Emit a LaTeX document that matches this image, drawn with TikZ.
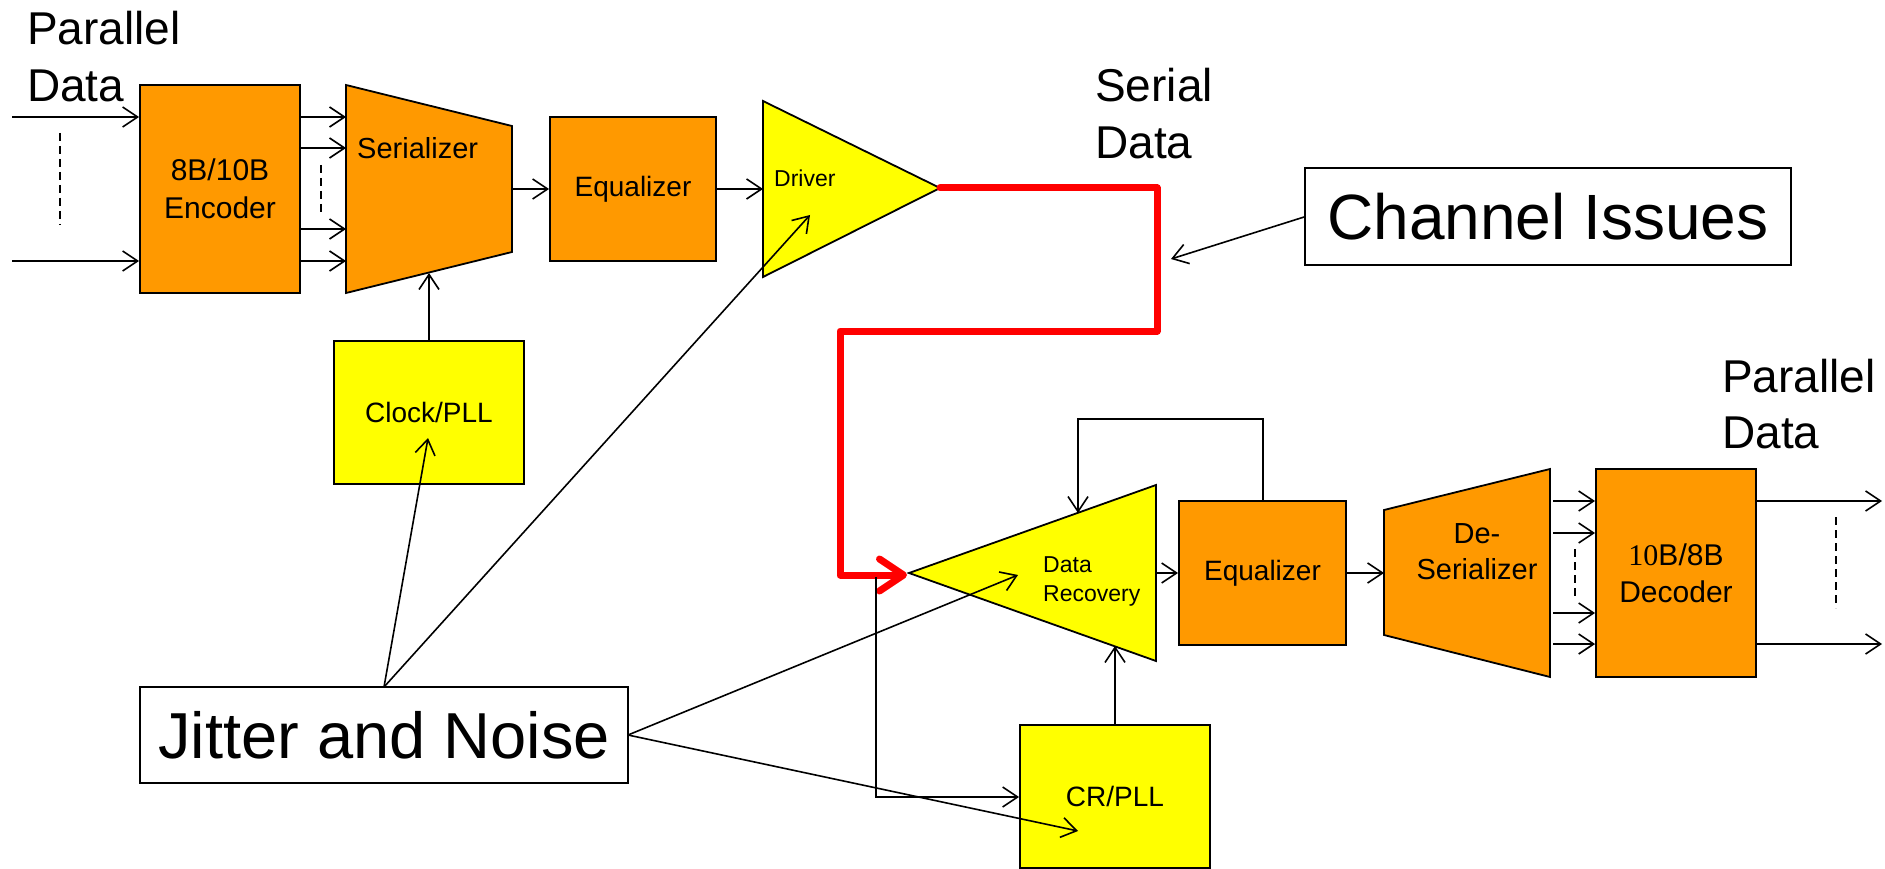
\documentclass[tikz,border=0pt]{standalone}
\usepackage{fontspec}
\setmainfont{Liberation Sans}
\newfontfamily\serifdigits{Liberation Serif}
\usetikzlibrary{arrows.meta}
\definecolor{boxorange}{HTML}{FF9900}
\definecolor{boxyellow}{HTML}{FFFF00}
\definecolor{chanred}{HTML}{FF0000}
\newcommand{\stackl}[2]{\begin{tabular}[t]{@{}l@{}}#1\\#2\end{tabular}}
\newcommand{\stackc}[2]{\begin{tabular}[t]{@{}c@{}}#1\\#2\end{tabular}}
\tikzset{
  blk/.style={draw=black, line width=1.8pt, line join=miter},
  obox/.style={blk, fill=boxorange, inner sep=0pt},
  ybox/.style={blk, fill=boxyellow, inner sep=0pt},
  wbox/.style={blk, fill=white, inner sep=0pt},
  conn/.style={line width=1.6pt, -{Straight Barb[length=15pt,width=20pt]}},
  plainline/.style={line width=1.6pt},
  dashv/.style={line width=1.6pt, dash pattern=on 8pt off 5pt},
  redline/.style={draw=chanred, line width=7pt, line join=round, line cap=round,
     -{Straight Barb[length=24pt,width=32pt,line cap=round,line join=round]}},
  bigtxt/.style={font=\fontsize{46}{57}\selectfont, inner sep=0pt},
  midtxt/.style={font=\fontsize{28}{38}\selectfont, align=center},
}
\begin{document}
\begin{tikzpicture}[x=1pt,y=-1pt]
\useasboundingbox (0,0) rectangle (1885,869);

% ---------- titles ----------
\node[bigtxt, anchor=base west] (pdl) at (27,45) {\stackl{Parallel}{Data}};
\node[bigtxt, anchor=base west] (sd) at (1095,102) {\stackl{Serial}{Data}};
\node[bigtxt, anchor=base west, font=\fontsize{46}{56}\selectfont] (pdr) at (1722,392) {\stackl{Parallel}{Data}};

% ---------- transmitter ----------
\node[obox, minimum width=160pt, minimum height=208pt, font=\fontsize{30}{38}\selectfont, align=center] (enc) at (220,189) {8B/10B\\Encoder};

\coordinate (serTL) at (346,85); \coordinate (serTR) at (512,126);
\coordinate (serBR) at (512,252); \coordinate (serBL) at (346,293);
\path[obox] (serTL) -- (serTR) -- (serBR) -- (serBL) -- cycle;
\node[anchor=base west, font=\fontsize{29}{35}\selectfont, inner sep=0pt] (sertxt) at (357,159) {Serializer};
\coordinate (serOut) at (512,189);
\coordinate (serBot) at (429,273);

\node[obox, minimum width=166pt, minimum height=144pt, midtxt] (eq1) at (633,189) {Equalizer};

\coordinate (drvTL) at (763,101); \coordinate (drvTip) at (940,188); \coordinate (drvBL) at (763,277);
\path[ybox] (drvTL) -- (drvTip) -- (drvBL) -- cycle;
\node[anchor=base west, font=\fontsize{23}{28}\selectfont, inner sep=0pt] (drvtxt) at (774,187) {Driver};
\coordinate (drvIn) at (763,189);
\coordinate (drvJit) at (810,215);

\node[ybox, minimum width=190pt, minimum height=143pt, midtxt] (clk) at (429,412.5) {Clock/PLL};
\coordinate (clkJit) at (428,438);

% ---------- side boxes ----------
\node[wbox, minimum width=488pt, minimum height=96pt, font=\fontsize{65}{70}\selectfont] (jit) at (384,735) {Jitter and Noise};
\node[wbox, minimum width=486pt, minimum height=97pt, font=\fontsize{64}{70}\selectfont] (chan) at (1548,216.5) {Channel Issues};
\coordinate (jitTop) at (384,687);
\coordinate (jitRight) at (628,735);

% ---------- receiver ----------
\coordinate (drTip) at (909,573); \coordinate (drTR) at (1156,485); \coordinate (drBR) at (1156,661);
\path[ybox] (drTip) -- (drTR) -- (drBR) -- cycle;
\node[anchor=base west, font=\fontsize{23}{29}\selectfont, inner sep=0pt] (drtxt) at (1043,572) {\stackl{Data}{Recovery}};
\coordinate (drOut) at (1156,573);
\coordinate (drTop) at (1078,513);
\coordinate (drBot) at (1115,646);
\coordinate (drJit) at (1018,575);

\node[obox, minimum width=167pt, minimum height=144pt, midtxt] (eq2) at (1262.5,573) {Equalizer};

\node[ybox, minimum width=190pt, minimum height=143pt, midtxt] (crpll) at (1115,796.5) {CR/PLL};
\coordinate (crJit) at (1078,831);

\coordinate (desTL) at (1384,510); \coordinate (desTR) at (1550,469);
\coordinate (desBR) at (1550,677); \coordinate (desBL) at (1384,635);
\path[obox] (desTL) -- (desTR) -- (desBR) -- (desBL) -- cycle;
\node[anchor=base, font=\fontsize{29}{36}\selectfont, inner sep=0pt] (destxt) at (1477,543) {\stackc{De-}{Serializer}};
\coordinate (desIn) at (1384,573);

\node[obox, minimum width=160pt, minimum height=208pt, font=\fontsize{30}{37}\selectfont, align=center] (dec) at (1676,573) {{\serifdigits 10}B/8B\\Decoder};

% ---------- connectors: transmitter ----------
\coordinate (pin1) at (12,117); \coordinate (pin2) at (12,261);
\draw[conn] (pin1) -- (enc.west |- pin1);
\draw[conn] (pin2) -- (enc.west |- pin2);
\coordinate (dashA1) at (60,133); \coordinate (dashA2) at (60,225);
\draw[dashv] (dashA1) -- (dashA2);
\foreach \yy in {117,148,229,261} \draw[conn] (enc.east |- 0,\yy) -- (serTL |- 0,\yy);
\coordinate (dashB1) at (321,165); \coordinate (dashB2) at (321,213);
\draw[dashv] (dashB1) -- (dashB2);
\draw[conn] (serOut) -- (eq1.west |- serOut);
\draw[conn] (clk.north) -- (serBot);
\draw[conn] (eq1.east |- drvIn) -- (drvIn);

% ---------- channel ----------
\coordinate (ch1) at (1157,188); \coordinate (ch2) at (1157,331);
\coordinate (ch3) at (840,331); \coordinate (ch4) at (840,575);
\coordinate (rxTip) at (907,575);
\draw[redline] (drvTip) -- (ch1) -- (ch2) -- (ch3) -- (ch4) -- (rxTip);
\coordinate (chanTip) at (1171,259);
\draw[conn] (chan.west) ++(0,0.5) -- (chanTip);

% ---------- connectors: receiver ----------
\coordinate (brTop) at (876,577); \coordinate (brBot) at (876,797);
\draw[conn] (brTop) -- (brBot) -- (crpll.west |- brBot);
\draw[conn] (drOut) -- (eq2.west |- drOut);
\draw[conn] (eq2.east |- desIn) -- (desIn);
\coordinate (fb1) at (1263,419); \coordinate (fb2) at (1078,419);
\draw[conn] (eq2.north -| fb1) -- (fb1) -- (fb2) -- (drTop);
\draw[conn] (crpll.north) -- (drBot);
\foreach \yy in {501,533,613,644} \draw[conn] (desTR |- 0,\yy) ++(3,0) -- (dec.west |- 0,\yy);
\coordinate (dashC1) at (1575,549); \coordinate (dashC2) at (1575,597);
\draw[dashv] (dashC1) -- (dashC2);
\coordinate (pout1) at (1882,501); \coordinate (pout2) at (1882,644);
\draw[conn] (dec.east |- pout1) -- (pout1);
\draw[conn] (dec.east |- pout2) -- (pout2);
\coordinate (dashD1) at (1836,517); \coordinate (dashD2) at (1836,608);
\draw[dashv] (dashD1) -- (dashD2);

% ---------- jitter ----------
\draw[conn] (jitTop) -- (clkJit);
\draw[conn] (jitTop) -- (drvJit);
\draw[conn] (jitRight) -- (drJit);
\draw[conn] (jitRight) -- (crJit);
\end{tikzpicture}
\end{document}
